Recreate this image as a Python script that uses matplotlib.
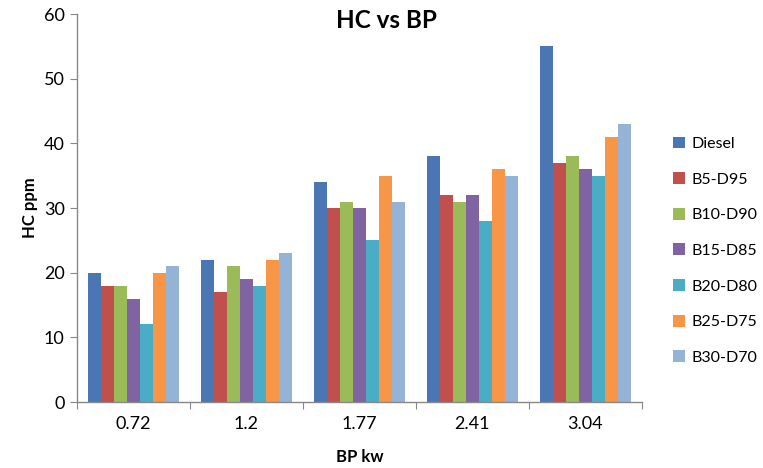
import matplotlib
matplotlib.use("Agg")
import matplotlib.pyplot as plt
import numpy as np

# brake power (kW) categories and HC emissions (ppm) per fuel blend
bp_labels = ["0.72", "1.2", "1.77", "2.41", "3.04"]
blends = ["Diesel", "B5-D95", "B10-D90", "B15-D85", "B20-D80", "B25-D75", "B30-D70"]
diesel = [20, 22, 34, 38, 55]
b5_d95 = [18, 17, 30, 32, 37]
b10_d90 = [18, 21, 31, 31, 38]
b15_d85 = [16, 19, 30, 32, 36]
b20_d80 = [12, 18, 25, 28, 35]
b25_d75 = [20, 22, 35, 36, 41]
b30_d70 = [21, 23, 31, 35, 43]

series = [diesel, b5_d95, b10_d90, b15_d85, b20_d80, b25_d75, b30_d70]
colors = ["#4A76B4", "#C0504D", "#9BBB59", "#8064A2", "#4BACC6", "#F79646", "#95B3D7"]

plt.rcParams['font.family'] = ['Lato', 'DejaVu Sans']

fig = plt.figure(figsize=(7.63, 4.68), dpi=100)
fig.patch.set_facecolor('white')
ax = fig.add_axes([0.101, 0.141, 0.740, 0.829])

x = np.arange(len(bp_labels))
width = 0.115
for i, (vals, color, name) in enumerate(zip(series, colors, blends)):
    ax.bar(x + (i - 3) * width, vals, width, color=color, label=name)

ax.set_xlim(-0.5, len(bp_labels) - 0.5)
ax.set_ylim(0, 60)
ax.set_yticks(range(0, 61, 10))

# category labels centred, tick marks on group boundaries
ax.set_xticks(np.arange(-0.5, len(bp_labels), 1.0))
ax.set_xticklabels([])
ax.set_xticks(x, minor=True)
ax.set_xticklabels(bp_labels, minor=True, fontsize=13)
ax.tick_params(axis='x', which='minor', length=0, pad=10)
ax.tick_params(axis='x', which='major', length=5, color='#888888', direction='out')
ax.tick_params(axis='y', length=5, color='#888888', labelsize=13, pad=4)

for spine in ['top', 'right']:
    ax.spines[spine].set_visible(False)
for spine in ['left', 'bottom']:
    ax.spines[spine].set_color('#888888')
    ax.spines[spine].set_linewidth(1.0)

fig.text(0.506, 0.956, "HC vs BP", fontsize=17.5, fontweight='bold',
         ha='center', va='center')
ax.set_xlabel("BP kw", fontsize=12, fontweight='bold', labelpad=12)
ax.set_ylabel("HC ppm", fontsize=12, fontweight='bold', labelpad=4)

ax.legend(loc='center left', bbox_to_anchor=(1.03, 0.39), frameon=False,
          fontsize=11.5, handlelength=0.75, handleheight=0.75, handletextpad=0.4,
          labelspacing=1.33)

fig.savefig("out.png", dpi=100)
